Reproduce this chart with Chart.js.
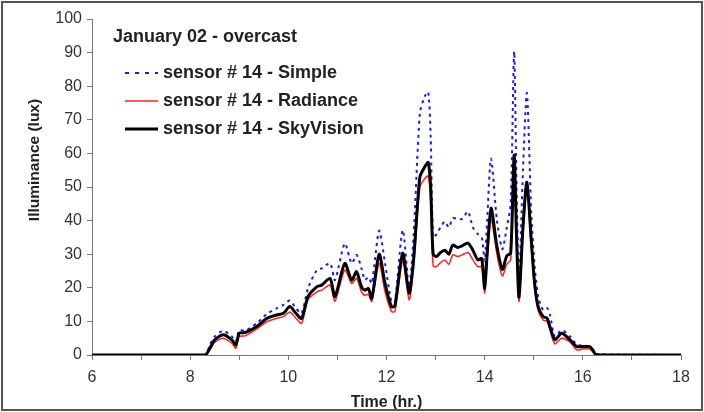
<!DOCTYPE html>
<html>
<head>
<meta charset="utf-8">
<script src="https://cdn.jsdelivr.net/npm/chart.js@4.4.0/dist/chart.umd.min.js"></script>
<style>
  body { margin: 0; background: #fff; }
  #wrap { width: 704px; height: 412px; }
</style>
</head>
<body>
<div id="wrap"><canvas id="myChart" width="704" height="412"></canvas></div>
<script>
// waktu (jam) - dipakai bersama untuk ketiga seri
var jam = [6, 8.3, 8.4, 8.5, 8.67, 8.85, 8.93, 9.0, 9.12, 9.35, 9.56, 9.76, 9.9, 10.03, 10.15, 10.27,
    10.4, 10.58, 10.68, 10.85, 10.95, 11.15, 11.29, 11.39, 11.49, 11.56, 11.63, 11.7, 11.85, 11.97,
    12.1, 12.17, 12.33, 12.46, 12.55, 12.68, 12.78, 12.85, 12.9, 12.95, 13.02, 13.1, 13.19, 13.27,
    13.35, 13.45, 13.54, 13.66, 13.76, 13.86, 13.94, 14.0, 14.05, 14.13, 14.25, 14.36, 14.45, 14.53,
    14.6, 14.65, 14.7, 14.78, 14.86, 14.95, 15.02, 15.09, 15.19, 15.27, 15.33, 15.43, 15.57, 15.74,
    15.88, 16.0, 16.14, 16.2, 16.28, 18];

// sensor # 14 - Simple
var simpleData = [0, 0, 3, 5.5, 7.2, 5.5, 4, 7.4, 7.2, 9.4, 12.2, 13.9, 14.9, 16.2, 14, 12.4,
    19.8, 25.3, 25.8, 27.3, 22.3, 33.2, 27.3, 29.8, 25.8, 22.3, 23.2, 21.3, 37, 27.3,
    15.9, 15.5, 37.2, 20.4, 35, 72, 77, 78.3, 65, 35, 36, 38, 39.7, 38,
    40.7, 40.5, 40.5, 42.7, 38, 36, 35, 28, 40, 58.5, 40, 31.5, 38, 45,
    90.3, 50, 22, 55, 78, 42, 26.3, 17.4, 13.4, 14, 12, 5.5, 7.4, 5.5,
    3, 2.8, 2.5, 1.8, 0.3, 0];

// sensor # 14 - Radiance
var radianceData = [0, 0, 1.5, 3.8, 5, 3.5, 2, 5.5, 5.7, 7.7, 9.9, 10.9, 11.4, 12.8, 11, 9.4,
    16.4, 18.8, 19.3, 20.8, 16, 25.3, 21.3, 22.8, 18.8, 17.8, 18, 15.9, 27.3, 18.8,
    13, 12.9, 28, 16.4, 26, 50, 52.5, 53.3, 46, 26.5, 26.3, 27.5, 28.3, 27,
    29.8, 29.3, 29.8, 30.5, 28.3, 26.3, 26.3, 18.5, 28, 40.5, 30, 23.5, 27, 28.3,
    58, 33, 15.9, 36, 49.8, 32, 19.5, 13.2, 10.4, 10, 7.5, 3.3, 5, 3.8,
    1.5, 1.8, 1.8, 1, 0, 0];

// sensor # 14 - SkyVision
var skyVisionData = [0, 0, 2, 4.5, 6, 4.5, 3, 6.5, 6.7, 8.4, 10.9, 11.9, 12.4, 14.4, 12.5, 10.9,
    17.4, 20.3, 20.8, 22.8, 17.4, 27.3, 22.3, 24.8, 20.3, 19.3, 19.8, 16.9, 30, 21.3,
    14.4, 14.6, 30.3, 18.4, 28, 53, 56, 57.3, 50, 30, 29.3, 30.5, 31.2, 30,
    32.7, 32, 32.5, 33.3, 31.2, 28.3, 28.7, 19.8, 30, 43.7, 32.3, 25.5, 29.5, 30.3,
    59.5, 35, 17.2, 38, 51.4, 34, 21, 14.4, 11.4, 11, 8.4, 4.5, 6.5, 4.5,
    2.5, 2.5, 2.5, 1.5, 0, 0];

var judul = "January 02 - overcast";
var namaSeri = ["sensor # 14 - Simple", "sensor # 14 - Radiance", "sensor # 14 - SkyVision"];
var judulY = "Illuminance (lux)";

var huruf = "'Liberation Sans', Arial, sans-serif";

function gabung(ys) {
    return jam.map(function (t, i) { return { x: t, y: ys[i] }; });
}

// plugin kecil: bingkai luar, judul sumbu Y, legenda di dalam area plot
var hiasan = {
    id: "hiasan",
    beforeDraw: function (chart) {
        var c = chart.ctx;
        c.save();
        c.fillStyle = "#fff";
        c.fillRect(0, 0, chart.width, chart.height);
        c.restore();
    },
    afterDraw: function (chart) {
        var c = chart.ctx;
        c.save();
        c.strokeStyle = "#555";
        c.lineWidth = 2;
        c.strokeRect(2, 2, chart.width - 4, chart.height - 4);

        // judul sumbu Y (diputar)
        c.save();
        c.translate(35, 160);
        c.rotate(-Math.PI / 2);
        c.fillStyle = "#222";
        c.font = "bold 15.5px " + huruf;
        c.textAlign = "center";
        c.textBaseline = "middle";
        c.fillText(judulY, 0, 0);
        c.restore();

        c.fillStyle = "#222";
        c.font = "bold 18px " + huruf;
        c.textBaseline = "middle";
        c.fillText(judul, 113, 37);

        var gaya = [
            { warna: "#1a1aff", lebar: 2, dash: [4, 6] },
            { warna: "#ff2020", lebar: 1.5, dash: [] },
            { warna: "#000", lebar: 3, dash: [] }
        ];
        var ys = [73, 101, 129];
        for (var i = 0; i < 3; i++) {
            c.beginPath();
            c.strokeStyle = gaya[i].warna;
            c.lineWidth = gaya[i].lebar;
            c.setLineDash(gaya[i].dash);
            c.moveTo(125, ys[i]);
            c.lineTo(158, ys[i]);
            c.stroke();
            c.setLineDash([]);
            c.fillText(namaSeri[i], 163, ys[i]);
        }
        c.restore();
    }
};

var ctx = document.getElementById("myChart").getContext("2d");
var myChart = new Chart(ctx, {
    type: "line",
    data: {
        datasets: [
            {
                label: namaSeri[0],
                data: gabung(simpleData),
                borderColor: "#1a1aff",
                borderWidth: 2,
                borderDash: [3, 4],
                pointRadius: 0,
                tension: 0.25,
                order: 3,
            },
            {
                label: namaSeri[1],
                data: gabung(radianceData),
                borderColor: "#ff2020",
                borderWidth: 1.5,
                pointRadius: 0,
                tension: 0.25,
                order: 2,
            },
            {
                label: namaSeri[2],
                data: gabung(skyVisionData),
                borderColor: "#000",
                borderWidth: 3,
                pointRadius: 0,
                tension: 0.25,
                order: 1,
            },
        ],
    },
    options: {
        responsive: false,
        animation: false,
        layout: { padding: { left: 0, right: 23, top: 19, bottom: 0 } },
        plugins: {
            legend: { display: false },
            tooltip: { enabled: false },
        },
        scales: {
            x: {
                type: "linear",
                min: 6,
                max: 18,
                afterFit: function (s) { s.height = 57; },
                ticks: {
                    stepSize: 1,
                    autoSkip: false,
                    maxRotation: 0,
                    color: "#333",
                    font: { size: 16, family: huruf },
                    padding: 8,
                    callback: function (v) { return v % 2 === 0 ? String(v) : ""; },
                },
                grid: { drawOnChartArea: false, drawTicks: true, tickLength: 5, color: "#777" },
                border: { display: true, color: "#777", width: 1 },
                title: {
                    display: true,
                    text: "Time (hr.)",
                    color: "#222",
                    font: { size: 16, weight: "bold", family: huruf },
                    padding: { top: 0, bottom: 0 },
                },
            },
            y: {
                min: 0,
                max: 100,
                afterFit: function (s) { s.width = 92; },
                ticks: {
                    stepSize: 10,
                    color: "#333",
                    font: { size: 16, family: huruf },
                    padding: 5,
                },
                grid: { drawOnChartArea: false, drawTicks: true, tickLength: 5, color: "#777" },
                border: { display: true, color: "#777", width: 1 },
            },
        },
    },
    plugins: [hiasan],
});
</script>
</body>
</html>
